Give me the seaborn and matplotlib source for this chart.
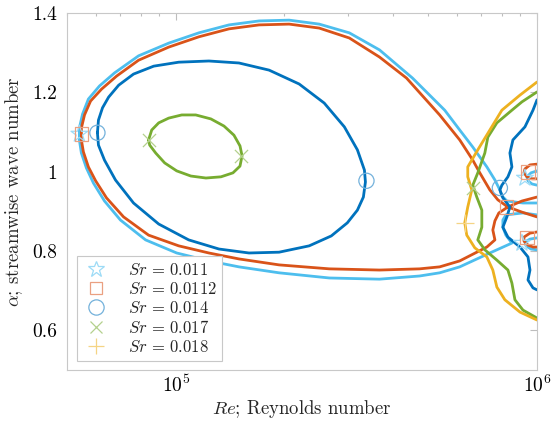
import numpy as np
import pandas as pd
import seaborn as sns
import matplotlib.pyplot as plt
from matplotlib.lines import Line2D
from matplotlib.colors import to_rgb
from matplotlib.ticker import LogLocator, NullFormatter, FuncFormatter

## neutral curves, Re in thousands, alpha = streamwise wave number
## Sr = 0.011 (light blue)
re_011 = [1000, 914.5, 825.4, 799.4, 789.3, 764.7, 726.4, 664.2, 611.1, 555.3, 452.2, 366.4,
          302.3, 249.5, 206.0, 170.1, 140.4, 115.9, 95.6, 78.9, 67.7, 61.5, 57.3, 55.2, 54.1,
          54.1, 54.8, 56.6, 59.2, 63.5, 70.3, 82.5, 100.6, 123.5, 149.6, 193.2, 266.1, 366.4,
          473.2, 537.7, 611.1, 740.4, 852.2, 820.1, 804.5, 804.5, 820.1, 914.5, 1000]
al_011 = [0.921, 0.921, 0.926, 0.939, 0.954, 0.979, 1.012, 1.062, 1.105, 1.155, 1.236, 1.307,
          1.350, 1.372, 1.382, 1.380, 1.370, 1.350, 1.324, 1.292, 1.249, 1.216, 1.183, 1.145, 1.110,
          1.080, 1.047, 1.009, 0.971, 0.926, 0.878, 0.828, 0.795, 0.775, 0.760, 0.745, 0.732, 0.729,
          0.737, 0.745, 0.760, 0.795, 0.820, 0.840, 0.860, 0.878, 0.891, 0.896, 0.891]
re_011_up = [1000, 962.4, 938.0, 944.1, 968.5, 1000]
al_011_up = [1.002, 0.997, 0.987, 0.977, 0.969, 0.966]
re_011_lo = [1000, 956.2, 926.1, 932.0, 962.4, 1000]
al_011_lo = [0.833, 0.830, 0.823, 0.813, 0.805, 0.803]

## Sr = 0.0112 (orange)
re_0112 = [1000, 908.5, 830.7, 784.2, 764.7, 754.6, 764.7, 726.4, 611.1, 537.7, 473.2, 366.4,
           266.1, 193.2, 149.6, 123.5, 101.9, 84.1, 71.7, 64.3, 60.0, 57.3, 55.5, 54.8, 54.8,
           55.9, 58.1, 62.3, 68.6, 78.9, 95.6, 115.9, 140.4, 170.1, 206.0, 249.5, 302.3, 366.4,
           435.3, 537.7, 611.1, 664.2, 694.5, 740.4, 779.2, 830.7, 908.5, 1000]
al_0112 = [0.936, 0.926, 0.911, 0.896, 0.876, 0.853, 0.828, 0.810, 0.775, 0.760, 0.755, 0.752,
           0.755, 0.765, 0.780, 0.795, 0.813, 0.840, 0.886, 0.934, 0.977, 1.012, 1.050, 1.080, 1.110,
           1.143, 1.178, 1.208, 1.241, 1.281, 1.314, 1.340, 1.360, 1.370, 1.372, 1.362, 1.337, 1.289,
           1.236, 1.143, 1.080, 1.029, 0.997, 0.954, 0.929, 0.911, 0.898, 0.886]
re_0112_up = [1000, 956.2, 926.1, 920.3, 938.0, 968.5, 1000]
al_0112_up = [1.019, 1.017, 1.007, 0.997, 0.987, 0.982, 0.982]
re_0112_lo = [1000, 956.2, 920.3, 920.3, 944.1, 974.7, 1000]
al_0112_lo = [0.848, 0.845, 0.835, 0.825, 0.815, 0.810, 0.810]

## Sr = 0.014 (blue)
re_014 = [60.7, 61.1, 62.7, 65.2, 69.5, 76.4, 86.9, 101.9, 123.5, 149.6, 181.3, 219.6, 257.6,
          292.9, 318.3, 332.9, 335.0, 330.7, 318.3, 298.5, 269.5, 234.1, 193.2, 159.5, 131.7,
          108.6, 89.7, 76.4, 68.1, 63.5, 61.1, 60.7]
al_014 = [1.098, 1.130, 1.161, 1.188, 1.218, 1.246, 1.266, 1.276, 1.279, 1.274, 1.256, 1.221, 1.173,
          1.113, 1.055, 1.004, 0.974, 0.936, 0.903, 0.871, 0.838, 0.813, 0.797, 0.795, 0.805,
          0.828, 0.868, 0.921, 0.979, 1.029, 1.067, 1.098]
re_014_r = [1000, 974.7, 926.1, 857.7, 841.4, 852.2, 830.7, 799.4, 789.3, 804.5, 841.4, 825.4,
            804.5, 830.7, 897.1, 944.1, 956.2, 944.1, 974.7, 1000]
al_014_r = [1.181, 1.155, 1.113, 1.080, 1.047, 1.012, 0.987, 0.966, 0.954, 0.934, 0.911, 0.886,
            0.860, 0.835, 0.810, 0.785, 0.752, 0.727, 0.707, 0.702]

## Sr = 0.017 (green)
re_017 = [84.1, 85.8, 89.7, 95.6, 103.9, 113.6, 125.1, 136.0, 144.9, 150.6, 152.6, 150.6, 144.0,
          133.4, 121.2, 110.1, 100.6, 93.2, 88.0, 84.7, 84.1]
al_017 = [1.080, 1.105, 1.123, 1.135, 1.143, 1.143, 1.133, 1.115, 1.092, 1.065, 1.040, 1.014, 0.997,
          0.987, 0.984, 0.989, 1.002, 1.022, 1.047, 1.067, 1.080]
re_017_r = [1000, 908.5, 852.2, 774.3, 731.0, 717.1, 685.7, 664.2, 681.3, 703.5, 703.5, 685.7,
            717.1, 774.3, 830.7, 852.2, 868.8, 914.5, 1000]
al_017_r = [1.201, 1.176, 1.155, 1.123, 1.087, 1.047, 0.997, 0.966, 0.936, 0.903, 0.860, 0.828,
            0.803, 0.777, 0.752, 0.719, 0.677, 0.651, 0.631]

## Sr = 0.018 (yellow)
re_018_r = [1000, 897.1, 799.4, 740.4, 685.7, 643.2, 643.2, 659.9, 643.2, 631.0, 639.1, 672.7,
            726.4, 754.6, 774.3, 814.8, 897.1, 1000]
al_018_r = [1.226, 1.193, 1.155, 1.105, 1.055, 1.012, 0.987, 0.954, 0.911, 0.871, 0.840, 0.808,
            0.785, 0.752, 0.709, 0.677, 0.646, 0.626]

## marker points
mk_011_re = [54.1, 926.1, 908.5]
mk_011_al = [1.095, 0.984, 0.820]
mk_0112_re = [54.8, 944.1, 825.4, 938.0]
mk_0112_al = [1.095, 0.999, 0.911, 0.833]
mk_014_re = [60.7, 337.2, 789.3]
mk_014_al = [1.098, 0.977, 0.959]
mk_017_re = [84.1, 151.6, 664.2]
mk_017_al = [1.080, 1.040, 0.959]
mk_018_re = [631.0]
mk_018_al = [0.871]

sr_labels = ['0.011', '0.0112', '0.014', '0.017', '0.018']
sr_colors = ['#4DBEEE', '#D95319', '#0072BD', '#77AC30', '#EDB120']
sr_markers = ['*', 's', 'o', 'x', '+']


def lighten(c, f=0.45):
    r, g, b = to_rgb(c)
    return (r + (1 - r) * f, g + (1 - g) * f, b + (1 - b) * f)


mk_colors = [lighten(c) for c in sr_colors]

sns.set_theme(style='white')
plt.rcParams['font.family'] = 'serif'
plt.rcParams['font.serif'] = ['cmr10']
plt.rcParams['mathtext.fontset'] = 'cm'
plt.rcParams['axes.unicode_minus'] = False
plt.rcParams['axes.formatter.use_mathtext'] = True

fig, ax = plt.subplots(figsize=(5.52, 4.32), dpi=100)
fig.subplots_adjust(left=67/552, right=537/552, bottom=62/432, top=419/432)
ax.set_xscale('log')


def draw(re_k, al, color):
    df = pd.DataFrame({'Re': np.array(re_k) * 1e3, 'alpha': al})
    sns.lineplot(data=df, x='Re', y='alpha', sort=False, estimator=None,
                 color=color, lw=2, ax=ax)


curves = [
    [(re_011, al_011), (re_011_up, al_011_up), (re_011_lo, al_011_lo)],
    [(re_0112, al_0112), (re_0112_up, al_0112_up), (re_0112_lo, al_0112_lo)],
    [(re_014, al_014), (re_014_r, al_014_r)],
    [(re_017, al_017), (re_017_r, al_017_r)],
    [(re_018_r, al_018_r)],
]
for segs, c in zip(curves, sr_colors):
    for r, a in segs:
        draw(r, a, c)

marks = [(mk_011_re, mk_011_al), (mk_0112_re, mk_0112_al), (mk_014_re, mk_014_al),
         (mk_017_re, mk_017_al), (mk_018_re, mk_018_al)]
sizes = [160, 90, 120, 90, 170]
for (r, a), c, m, s in zip(marks, mk_colors, sr_markers, sizes):
    df = pd.DataFrame({'Re': np.array(r) * 1e3, 'alpha': a})
    if m in ('x', '+'):
        sns.scatterplot(data=df, x='Re', y='alpha', marker=m, s=s, color=c,
                        linewidth=0.9, ax=ax, zorder=5)
    else:
        sns.scatterplot(data=df, x='Re', y='alpha', marker=m, s=s, color=c,
                        facecolors='none', edgecolors=c, linewidth=0.9,
                        ax=ax, zorder=5)

ax.set_xlim(5e4, 1e6)
ax.set_ylim(0.5, 1.4)
ax.set_yticks([0.6, 0.8, 1.0, 1.2, 1.4])
ax.yaxis.set_major_formatter(FuncFormatter(lambda v, p: f'{v:g}'))
ax.xaxis.set_minor_locator(LogLocator(base=10, subs=np.arange(2, 10)))
ax.xaxis.set_minor_formatter(NullFormatter())
ax.tick_params(which='both', direction='in', top=True, right=True,
               color='#bdbdbd', labelcolor='black', labelsize=14)
ax.tick_params(which='major', length=5, width=0.8)
ax.tick_params(axis='y', which='major', pad=7)
ax.tick_params(axis='x', which='major', pad=3)
ax.tick_params(which='minor', length=2.5, width=0.8)
for sp in ax.spines.values():
    sp.set_color('#c8c8c8')
    sp.set_linewidth(0.8)

ax.set_xlabel(r'$Re$; Reynolds number', fontsize=13.5, labelpad=2)
ax.set_ylabel(r'$\alpha$; streamwise wave number', fontsize=13.5, labelpad=5)

handles = []
for c, m, lab in zip(mk_colors, sr_markers, sr_labels):
    handles.append(Line2D([], [], linestyle='none', marker=m,
                          markersize={'*': 12, 's': 9, 'o': 11, 'x': 9, '+': 12}[m],
                          markerfacecolor='none', markeredgecolor=c, markeredgewidth=0.9,
                          label=rf'$Sr\,=\,{lab}$'))
leg = ax.legend(handles=handles, loc='lower left', bbox_to_anchor=(0.021, 0.025),
                borderaxespad=0, fontsize=12, frameon=True, fancybox=False,
                framealpha=1, edgecolor='#c8c8c8', handletextpad=1.1,
                labelspacing=0.18, borderpad=0.35, handlelength=1.6)
leg.get_frame().set_linewidth(0.8)

plt.savefig('out.png', dpi=100)
